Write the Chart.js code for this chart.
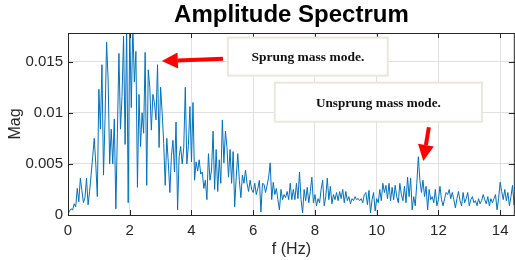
<!DOCTYPE html>
<html><head><meta charset="utf-8">
<script src="https://cdn.jsdelivr.net/npm/chart.js@4/dist/chart.umd.min.js"></script>
<style>html,body{margin:0;padding:0;background:#fff;overflow:hidden}canvas{display:block}</style>
</head><body>
<canvas id="c" width="515" height="260"></canvas>
<script>
const chartTitle = 'Amplitude Spectrum';
const xAxisLabel = 'f (Hz)';
const yAxisLabel = 'Mag';
const freqStepHz = 0.05;
// Magnitude in units of 1e-3, one row per Hz (20 bins of 0.05 Hz each)
const magnitudeMilli = [
  0.1,0.4,0.6,0.5,1.1,0.8,2.6,1.3,3.6,2.4,1.2,1.7,3.6,1.0,2.3,4.0,5.7,7.5,5.0,1.8,
  12.3,8.4,14.7,3.9,9.4,16.9,13.2,5.0,8.4,5.0,9.4,0.6,8.0,15.8,8.4,11.6,17.5,6.9,18.5,1.2,
  18.5,10.5,18.5,13.0,16.0,2.7,11.8,6.7,10.0,8.0,15.9,2.9,14.2,12.5,8.3,11.8,11.0,9.3,14.7,6.6,
  12.5,10.0,7.0,2.9,7.5,5.1,2.2,5.8,7.3,4.2,9.1,0.5,5.7,6.7,5.0,6.6,12.5,5.0,6.8,10.6,
  5.2,11.0,3.4,5.2,4.3,5.4,4.0,4.2,2.6,3.4,1.5,6.0,3.4,4.4,8.2,2.5,6.4,2.3,5.4,3.1,
  9.3,5.1,8.2,6.6,3.7,6.4,3.1,6.2,0.8,3.7,6.0,3.4,1.7,3.9,3.1,4.4,3.1,2.3,3.4,2.5,
  2.2,3.1,2.0,2.6,3.4,0.3,3.1,3.0,2.2,2.9,3.7,5.1,1.5,3.2,2.0,2.6,1.5,0.5,2.5,1.5,
  2.0,1.7,2.3,1.5,3.1,1.5,2.5,1.5,3.1,1.6,4.2,1.5,0.2,2.5,1.4,2.7,1.2,2.3,3.7,1.2,
  2.0,0.9,1.6,1.2,2.5,3.4,0.9,1.8,3.6,1.5,2.8,1.1,2.0,1.5,2.2,1.4,2.3,1.6,2.5,1.2,
  2.3,1.4,1.8,1.1,1.6,1.4,1.8,1.5,1.6,1.4,1.6,1.2,2.0,2.2,1.0,2.4,0.2,1.5,2.2,0.4,
  1.6,1.2,2.5,1.4,3.1,2.2,2.9,1.6,3.1,1.4,2.7,1.5,2.9,1.8,1.2,3.1,2.0,1.4,2.8,1.2,
  3.7,1.8,3.6,0.5,1.8,0.9,3.1,5.7,3.4,2.2,3.4,1.8,2.8,0.5,2.5,1.5,1.8,1.2,2.5,0.9,
  1.5,2.8,1.5,0.9,1.6,2.2,2.0,2.5,1.6,2.2,1.5,0.7,1.6,2.3,1.4,0.9,2.2,1.2,1.6,2.2,
  0.9,1.5,1.8,1.2,1.4,0.9,1.6,1.1,1.4,2.0,1.5,1.1,1.8,0.9,1.6,1.2,1.6,2.0,0.5,1.6,
  3.2,2.3,1.5,2.5,1.4,2.2,0.9,1.8,2.9,1.0,2.0
];
const xTicks = [0, 2, 4, 6, 8, 10, 12, 14];
const xTickLabels = ['0', '2', '4', '6', '8', '10', '12', '14'];
const yTicksMilli = [0, 5, 10, 15];
const yTickLabels = ['0', '0.005', '0.01', '0.015'];
const annotationTexts = ['Sprung mass mode.', 'Unsprung mass mode.'];

const points = magnitudeMilli.map((m, i) => ({ x: i * freqStepHz, y: m }));

const FONT = "'Liberation Sans', Arial, Helvetica, sans-serif";
const INK = '#262626';

const decor = {
  id: 'decor',
  afterDraw(chart) {
    const { ctx, chartArea: a, scales: { x, y } } = chart;
    const X = v => x.getPixelForValue(v), Y = v => y.getPixelForValue(v);
    ctx.save();
    ctx.strokeStyle = INK; ctx.lineWidth = 1;
    const seg = (x1, y1, x2, y2) => { ctx.beginPath(); ctx.moveTo(x1, y1); ctx.lineTo(x2, y2); ctx.stroke(); };
    seg(a.left, a.top + 0.5, a.right, a.top + 0.5);
    seg(a.right - 0.5, a.top, a.right - 0.5, a.bottom);
    xTicks.forEach(v => { const p = Math.round(X(v)) + 0.5; seg(p, a.bottom, p, a.bottom - 5); seg(p, a.top, p, a.top + 5); });
    yTicksMilli.forEach(v => { const p = Math.round(Y(v)) + 0.5; seg(a.left, p, a.left + 5, p); seg(a.right, p, a.right - 6, p); });

    // annotation boxes
    const box = (x1, y1, x2, y2, txt, size) => {
      const l = X(x1), r = X(x2), t = Y(y1), b = Y(y2);
      ctx.fillStyle = '#ffffff';
      ctx.fillRect(l, t, r - l, b - t);
      ctx.strokeStyle = '#ebe7dc'; ctx.lineWidth = 2;
      ctx.strokeRect(l, t, r - l, b - t);
      ctx.fillStyle = '#111';
      ctx.font = 'bold ' + size + "px 'Liberation Serif', 'Times New Roman', serif";
      ctx.textAlign = 'center'; ctx.textBaseline = 'middle';
      ctx.fillText(txt, (l + r) / 2, (t + b) / 2 + 1);
    };
    box(5.18, 17.35, 10.36, 13.63, annotationTexts[0], 13.5);
    box(6.70, 12.94, 13.41, 9.12, annotationTexts[1], 13.2);

    const arrow = (fx, fy, tx, ty) => {
      const x1 = X(fx), y1 = Y(fy), x2 = X(tx), y2 = Y(ty);
      const ang = Math.atan2(y2 - y1, x2 - x1);
      const hl = 16, hw = 8;
      const bx = x2 - hl * Math.cos(ang), by = y2 - hl * Math.sin(ang);
      ctx.strokeStyle = '#ff0000'; ctx.fillStyle = '#ff0000';
      ctx.lineWidth = 4; ctx.lineCap = 'butt';
      seg(x1, y1, bx, by);
      ctx.beginPath();
      ctx.moveTo(x2, y2);
      ctx.lineTo(bx + hw * Math.sin(ang), by - hw * Math.cos(ang));
      ctx.lineTo(bx - hw * Math.sin(ang), by + hw * Math.cos(ang));
      ctx.closePath(); ctx.fill();
    };
    arrow(5.02, 15.29, 3.04, 15.05);
    arrow(11.69, 8.58, 11.51, 5.29);
    ctx.restore();
  }
};

new Chart(document.getElementById('c'), {
  type: 'line',
  data: { datasets: [{ data: points, borderColor: '#0072BD', borderWidth: 1, pointRadius: 0, tension: 0, fill: false }] },
  options: {
    responsive: false, animation: false, devicePixelRatio: 1,
    layout: { padding: { left: 0, right: 0, top: 0, bottom: 0 } },
    plugins: {
      legend: { display: false }, tooltip: { enabled: false },
      title: { display: true, text: chartTitle, fullSize: false, color: '#000',
        font: { family: FONT, size: 24, weight: 'bold', lineHeight: 1.2 }, padding: { top: 1.2, bottom: 3 } }
    },
    scales: {
      x: {
        type: 'linear', min: 0, max: 14.475,
        afterFit: s => { s.height = 45; },
        afterBuildTicks: s => { s.ticks = xTicks.map(v => ({ value: v })); },
        ticks: { color: INK, font: { family: FONT, size: 15 }, padding: 6.5, maxRotation: 0,
          callback: (v, i) => xTickLabels[i] },
        grid: { color: '#e0e0e0', drawTicks: false },
        border: { display: true, color: INK, width: 1 },
        title: { display: true, text: xAxisLabel, color: INK, font: { family: FONT, size: 16 }, padding: { top: 0, bottom: 0.5 } }
      },
      y: {
        type: 'linear', min: 0, max: 17.8,
        afterFit: s => { s.width = 68; },
        afterBuildTicks: s => { s.ticks = yTicksMilli.map(v => ({ value: v })); },
        ticks: { color: INK, font: { family: FONT, size: 15 }, padding: 5,
          callback: (v, i) => yTickLabels[i] },
        grid: { color: '#e0e0e0', drawTicks: false },
        border: { display: true, color: INK, width: 1 },
        title: { display: true, text: yAxisLabel, color: INK, font: { family: FONT, size: 16 }, padding: { top: 5.5, bottom: 0 } }
      }
    }
  },
  plugins: [decor]
});
</script>
</body></html>
